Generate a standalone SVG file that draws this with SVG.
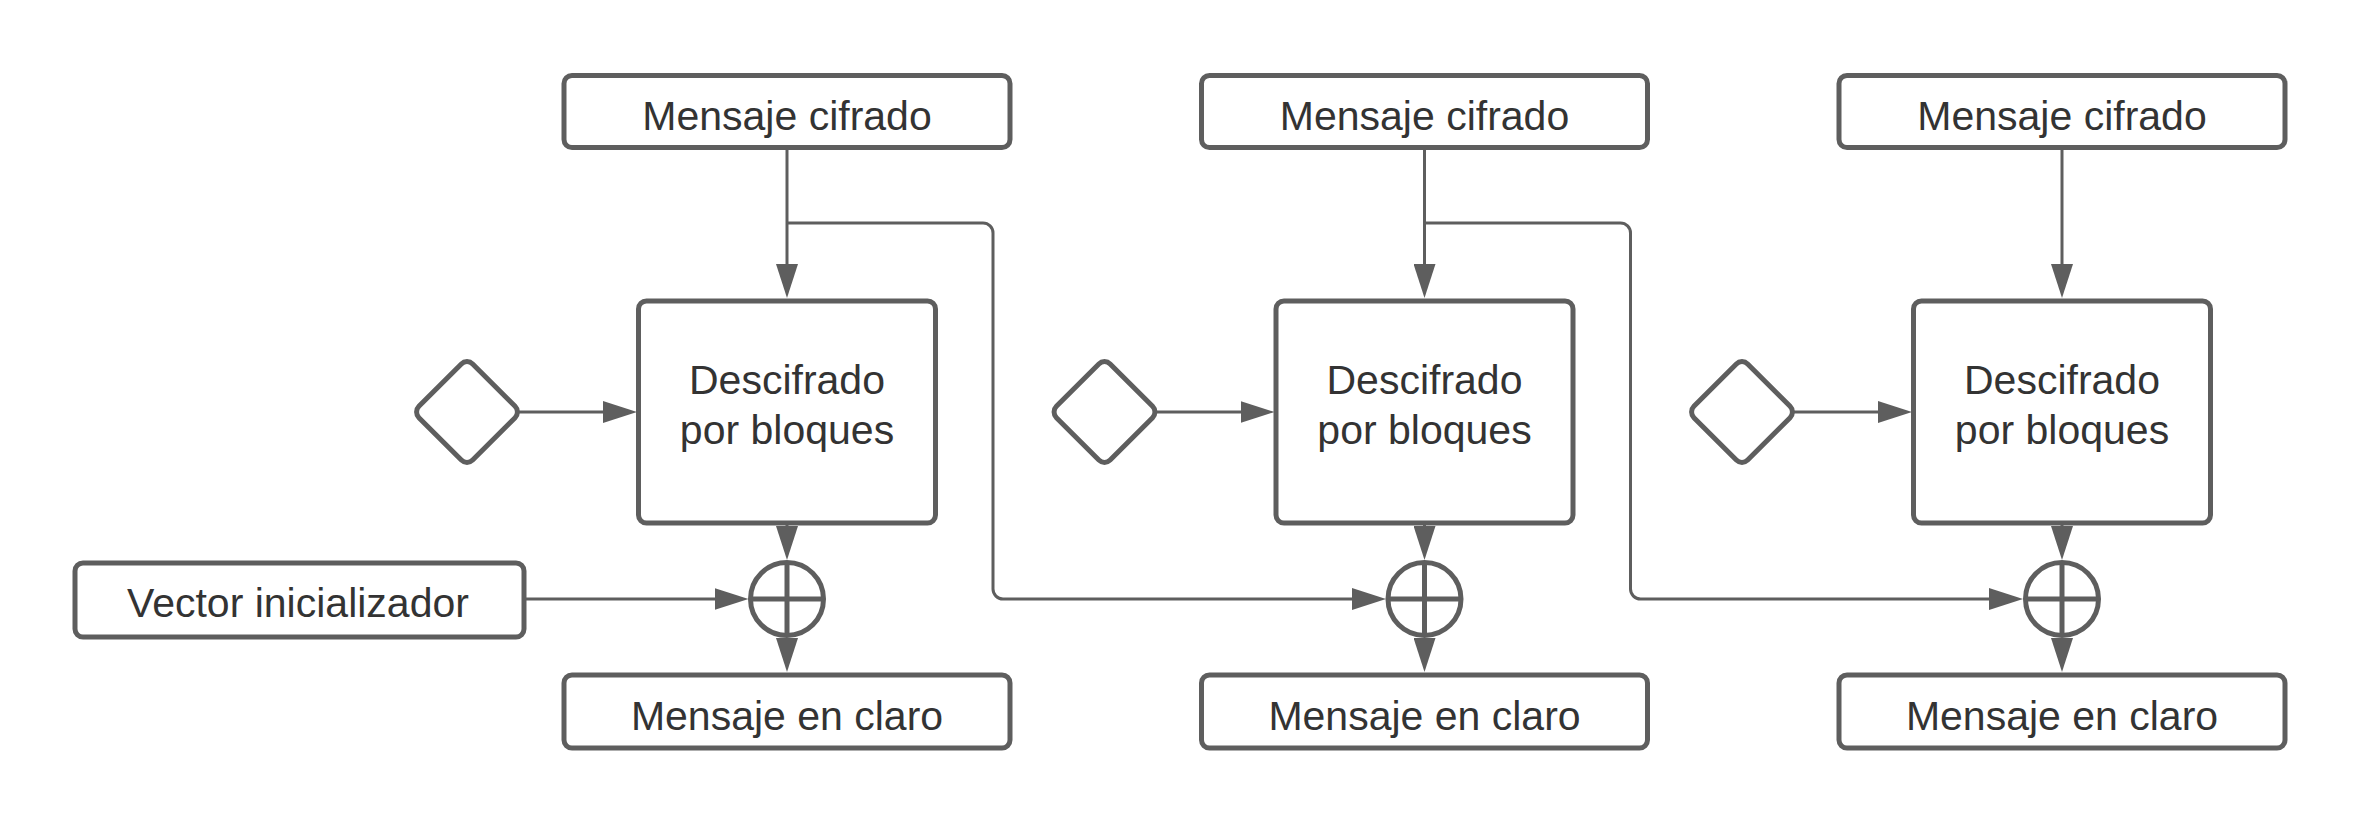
<svg xmlns="http://www.w3.org/2000/svg" width="2363" height="825" viewBox="0 0 2363 825">
<style>
.box{fill:#ffffff;stroke:#5e5e5e;stroke-width:5}
.conn{fill:none;stroke:#5e5e5e;stroke-width:3}
.arr{marker-end:url(#ah)}
.txt{font-family:"Liberation Sans",Arial,sans-serif;font-size:41px;fill:#333333;text-anchor:middle}
.xl{fill:none;stroke:#5e5e5e;stroke-width:5}
</style>
<defs>
<marker id="ah" viewBox="0 0 34 22" refX="24" refY="11" markerWidth="34" markerHeight="22" markerUnits="userSpaceOnUse" orient="auto">
<path d="M0,0 L34,11 L0,22 Z" fill="#5e5e5e"/>
</marker>
</defs>
<rect width="2363" height="825" fill="#ffffff"/>

<g id="connectors">
<!-- column 1 -->
<path class="conn arr" d="M787,148 V288"/>
<path class="conn arr" d="M787,223 H983 A10,10 0 0 1 993,233 V589 A10,10 0 0 0 1003,599 H1376"/>
<path class="conn arr" d="M519,412 H627"/>
<path class="conn arr" d="M787,524 V550"/>
<path class="conn arr" d="M787,638 V662"/>
<path class="conn arr" d="M526,599 H738.5"/>
<!-- column 2 -->
<path class="conn arr" d="M1424.5,148 V288"/>
<path class="conn arr" d="M1424.5,223 H1620.5 A10,10 0 0 1 1630.5,233 V589 A10,10 0 0 0 1640.5,599 H2013"/>
<path class="conn arr" d="M1156.5,412 H1264.5"/>
<path class="conn arr" d="M1424.5,524 V550"/>
<path class="conn arr" d="M1424.5,638 V662"/>
<!-- column 3 -->
<path class="conn arr" d="M2062,148 V288"/>
<path class="conn arr" d="M1794,412 H1902"/>
<path class="conn arr" d="M2062,524 V550"/>
<path class="conn arr" d="M2062,638 V662"/>
</g>

<g id="cifrado1"><rect class="box" x="564" y="75.5" width="446" height="72" rx="8"/><text class="txt" x="787" y="130">Mensaje cifrado</text></g>
<g id="cifrado2"><rect class="box" x="1201.5" y="75.5" width="446" height="72" rx="8"/><text class="txt" x="1424.5" y="130">Mensaje cifrado</text></g>
<g id="cifrado3"><rect class="box" x="1839" y="75.5" width="446" height="72" rx="8"/><text class="txt" x="2062" y="130">Mensaje cifrado</text></g>

<g id="bloque1"><rect class="box" x="638.5" y="301" width="297" height="222" rx="8"/><text class="txt" x="787" y="394">Descifrado</text><text class="txt" x="787" y="444">por bloques</text></g>
<g id="bloque2"><rect class="box" x="1276" y="301" width="297" height="222" rx="8"/><text class="txt" x="1424.5" y="394">Descifrado</text><text class="txt" x="1424.5" y="444">por bloques</text></g>
<g id="bloque3"><rect class="box" x="1913.5" y="301" width="297" height="222" rx="8"/><text class="txt" x="2062" y="394">Descifrado</text><text class="txt" x="2062" y="444">por bloques</text></g>

<g id="clave1"><rect class="box" x="-38" y="-38" width="76" height="76" rx="8" transform="translate(467,412) rotate(45)"/></g>
<g id="clave2"><rect class="box" x="-38" y="-38" width="76" height="76" rx="8" transform="translate(1104.5,412) rotate(45)"/></g>
<g id="clave3"><rect class="box" x="-38" y="-38" width="76" height="76" rx="8" transform="translate(1742,412) rotate(45)"/></g>

<g id="xor1"><circle class="box" cx="787" cy="599" r="36.5"/><path class="xl" d="M750.5,599 H823.5 M787,562.5 V635.5"/></g>
<g id="xor2"><circle class="box" cx="1424.5" cy="599" r="36.5"/><path class="xl" d="M1388,599 H1461 M1424.5,562.5 V635.5"/></g>
<g id="xor3"><circle class="box" cx="2062" cy="599" r="36.5"/><path class="xl" d="M2025.5,599 H2098.5 M2062,562.5 V635.5"/></g>

<g id="vector"><rect class="box" x="75" y="563" width="449" height="74" rx="8"/><text class="txt" x="298" y="617">Vector inicializador</text></g>

<g id="claro1"><rect class="box" x="564" y="675" width="446" height="73" rx="8"/><text class="txt" x="787" y="730">Mensaje en claro</text></g>
<g id="claro2"><rect class="box" x="1201.5" y="675" width="446" height="73" rx="8"/><text class="txt" x="1424.5" y="730">Mensaje en claro</text></g>
<g id="claro3"><rect class="box" x="1839" y="675" width="446" height="73" rx="8"/><text class="txt" x="2062" y="730">Mensaje en claro</text></g>
</svg>
